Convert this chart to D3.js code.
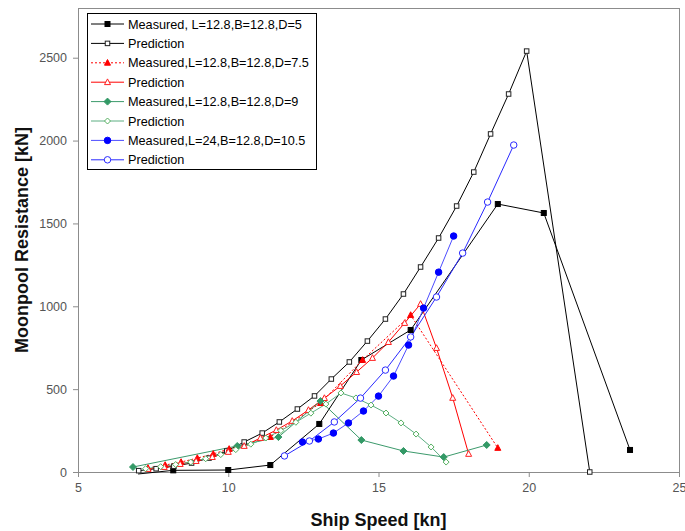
<!DOCTYPE html>
<html>
<head>
<meta charset="utf-8">
<script src="https://cdn.jsdelivr.net/npm/d3@7/dist/d3.min.js"></script>
<style>
  html, body { margin: 0; padding: 0; background: #fff; }
  svg { display: block; font-family: "Liberation Sans", Arial, sans-serif; }
</style>
</head>
<body>
<svg id="chart" width="685" height="531"></svg>
<script>
// Moonpool resistance vs ship speed: measured data and predictions for four moonpool geometries

const xTicks = [5, 10, 15, 20, 25];
const yTicks = [0, 500, 1000, 1500, 2000, 2500];

// L=12.8, B=12.8, D=5
const measSpeedD5 = [7.0, 8.17, 10.0, 11.4, 13.03, 14.43, 16.07, 18.97, 20.5, 23.37];
const measResD5   = [-12, 10, 12, 42, 290, 676, 857, 1617, 1563, 133];
const predSpeedD5 = [7.02, 7.6, 8.19, 8.78, 9.36, 9.95, 10.53, 11.13, 11.7, 12.3, 12.87, 13.43,
                     14.03, 14.63, 15.23, 15.83, 16.4, 17.0, 17.6, 18.17, 18.73, 19.33, 19.93, 22.03];
const predResD5   = [8, 20, 35, 54, 84, 127, 181, 235, 302, 380, 459, 561,
                     664, 790, 923, 1074, 1237, 1412, 1605, 1810, 2040, 2281, 2540, 0];

// L=12.8, B=12.8, D=7.5
const measSpeedD75 = [7.33, 7.9, 8.43, 8.97, 9.5, 10.03, 11.4, 13.07, 14.47, 16.07, 18.97];
const measResD75   = [24, 42, 60, 84, 109, 139, 211, 416, 676, 947, 145];
const predSpeedD75 = [7.33, 7.87, 8.4, 8.93, 9.47, 10.0, 10.53, 11.07, 11.6, 12.13, 12.67,
                      13.2, 13.73, 14.27, 14.8, 15.33, 15.87, 16.4, 16.93, 17.47, 18.0];
const predResD75   = [18, 30, 48, 66, 90, 121, 157, 205, 253, 308, 374,
                      446, 519, 603, 688, 784, 899, 1014, 748, 447, 109];

// L=12.8, B=12.8, D=9
const measSpeedD9 = [6.83, 10.3, 11.67, 13.07, 14.43, 15.83, 17.17, 18.6];
const measResD9   = [30, 157, 211, 428, 193, 127, 90, 163];
const predSpeedD9 = [7.25, 7.75, 8.25, 8.75, 9.25, 9.75, 10.25, 10.75, 11.25, 11.75, 12.25,
                     12.75, 13.25, 13.75, 14.25, 14.75, 15.25, 15.75, 16.25, 16.75, 17.25];
const predResD9   = [20, 32, 45, 60, 80, 105, 135, 168, 205, 250, 300,
                     355, 410, 477, 447, 404, 356, 296, 229, 151, 60];

// L=24, B=12.8, D=10.5
const measSpeedD105 = [12.47, 13.0, 13.5, 14.0, 14.5, 15.0, 15.5, 16.0, 16.5, 17.0, 17.5];
const measResD105   = [181, 199, 235, 296, 368, 458, 579, 766, 989, 1206, 1424];
const predSpeedD105 = [11.87, 12.7, 13.53, 14.4, 15.23, 16.07, 16.93, 17.8, 18.63, 19.5];
const predResD105   = [97, 187, 302, 446, 615, 815, 1056, 1321, 1629, 1973];

const zip = (xs, ys) => xs.map((x, i) => ({ x, y: ys[i] }));

const series = [
  { name: "Measured, L=12.8,B=12.8,D=5", data: zip(measSpeedD5, measResD5),
    line: "#000", dash: null, shape: "square", fill: "#000", stroke: "#000", size: 5 },
  { name: "Prediction", data: zip(predSpeedD5, predResD5),
    line: "#000", dash: null, shape: "square", fill: "#fff", stroke: "#222", size: 4.5 },
  { name: "Measured,L=12.8,B=12.8,D=7.5", data: zip(measSpeedD75, measResD75),
    line: "#ff0000", dash: "2,2", shape: "triangle", fill: "#ff0000", stroke: "#ff0000", size: 6 },
  { name: "Prediction", data: zip(predSpeedD75, predResD75),
    line: "#ff0000", dash: null, shape: "triangle", fill: "#fff", stroke: "#ff2020", size: 6 },
  { name: "Measured,L=12.8,B=12.8,D=9", data: zip(measSpeedD9, measResD9),
    line: "#3c9a6c", dash: null, shape: "diamond", fill: "#339966", stroke: "#339966", size: 6 },
  { name: "Prediction", data: zip(predSpeedD9, predResD9),
    line: "#5cae82", dash: null, shape: "diamond", fill: "#fff", stroke: "#55b060", size: 5 },
  { name: "Measured,L=24,B=12.8,D=10.5", data: zip(measSpeedD105, measResD105),
    line: "#4d4dff", dash: null, shape: "circle", fill: "#0000ff", stroke: "#0000ff", size: 6.5 },
  { name: "Prediction", data: zip(predSpeedD105, predResD105),
    line: "#2a2aff", dash: null, shape: "circle", fill: "#fff", stroke: "#2a2aff", size: 6.5 }
];

const margin = { left: 78, top: 8, right: 6, bottom: 59 };
const W = 685, H = 531;
const pw = W - margin.left - margin.right;
const ph = H - margin.top - margin.bottom;

const svg = d3.select("#chart");
const g = svg.append("g").attr("transform", `translate(${margin.left},${margin.top})`);

const x = d3.scaleLinear().domain([5, 25]).range([0, pw]);
const y = d3.scaleLinear().domain([0, 2800]).range([ph, 0]);

// plot frame
g.append("rect").attr("x", 0.5).attr("y", 0.5).attr("width", pw).attr("height", ph)
  .attr("fill", "#fff").attr("stroke", "#8c8c8c").attr("stroke-width", 1);

g.append("clipPath").attr("id", "plotclip")
  .append("rect").attr("x", 0).attr("y", -5).attr("width", pw + 1).attr("height", ph + 10);

// axes
const xAxis = g.append("g").attr("transform", `translate(0,${ph})`)
  .call(d3.axisBottom(x).tickValues(xTicks).tickFormat(d3.format("d"))
    .tickSize(5).tickSizeOuter(0).tickPadding(6));
const yAxis = g.append("g")
  .call(d3.axisLeft(y).tickValues(yTicks).tickFormat(d3.format("d"))
    .tickSize(5).tickSizeOuter(0).tickPadding(6));
[xAxis, yAxis].forEach(a => {
  a.select(".domain").attr("stroke", "#8c8c8c");
  a.selectAll(".tick line").attr("stroke", "#8c8c8c");
  a.selectAll(".tick text").attr("fill", "#555").style("font-size", "12.5px")
    .style("font-family", '"Liberation Sans", Arial, sans-serif');
});

// axis titles
svg.append("text").attr("x", margin.left + pw / 2).attr("y", 526)
  .attr("text-anchor", "middle").style("font-size", "18px").style("font-weight", "bold")
  .attr("fill", "#111").text("Ship Speed [kn]");
svg.append("text").attr("transform", `translate(28,${margin.top + ph / 2}) rotate(-90)`)
  .attr("text-anchor", "middle").style("font-size", "18px").style("font-weight", "bold")
  .attr("fill", "#111").text("Moonpool Resistance [kN]");

// marker drawing helper
function marker(sel, s, cx, cy) {
  const r = s.size / 2;
  let m;
  if (s.shape === "square") {
    m = sel.append("rect").attr("x", cx - r).attr("y", cy - r).attr("width", s.size).attr("height", s.size);
  } else if (s.shape === "circle") {
    m = sel.append("circle").attr("cx", cx).attr("cy", cy).attr("r", r);
  } else if (s.shape === "triangle") {
    const h = s.size;
    m = sel.append("path").attr("d",
      `M${cx},${cy - h * 0.55} L${cx + h / 2},${cy + h * 0.4} L${cx - h / 2},${cy + h * 0.4} Z`);
  } else {
    const d = s.size / 2 + 0.5;
    m = sel.append("path").attr("d", `M${cx},${cy - d} L${cx + d},${cy} L${cx},${cy + d} L${cx - d},${cy} Z`);
  }
  m.attr("fill", s.fill).attr("stroke", s.stroke).attr("stroke-width", 1);
}

const lineGen = d3.line().x(d => x(d.x)).y(d => y(d.y));
const plot = g.append("g").attr("clip-path", "url(#plotclip)");

series.forEach(s => {
  plot.append("path").datum(s.data).attr("d", lineGen)
    .attr("fill", "none").attr("stroke", s.line).attr("stroke-width", 1)
    .attr("stroke-dasharray", s.dash);
});
// markers are only drawn for points inside the value range
series.forEach(s => {
  const mg = plot.append("g");
  s.data.filter(d => d.y >= 0).forEach(d => marker(mg, s, x(d.x), y(d.y)));
});

// legend
const lg = svg.append("g").attr("transform", "translate(87,13)");
lg.append("rect").attr("x", 0.5).attr("y", 0.5).attr("width", 229).attr("height", 156)
  .attr("fill", "#fff").attr("stroke", "#000").attr("stroke-width", 1);
series.forEach((s, i) => {
  const cy = 11 + i * 19.4;
  lg.append("line").attr("x1", 4).attr("x2", 37).attr("y1", cy).attr("y2", cy)
    .attr("stroke", s.line).attr("stroke-width", 1).attr("stroke-dasharray", s.dash);
  marker(lg, s, 20.5, cy);
  lg.append("text").attr("x", 41).attr("y", cy + 4.5).style("font-size", "12.7px")
    .attr("fill", "#000").text(s.name);
});
</script>
</body>
</html>
